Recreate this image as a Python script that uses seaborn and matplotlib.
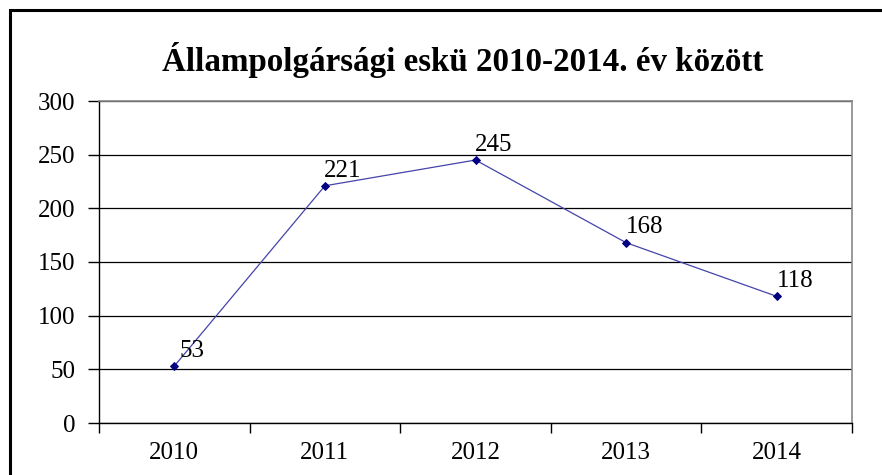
import matplotlib
matplotlib.use("Agg")
import matplotlib.pyplot as plt
import matplotlib.patches as patches
import seaborn as sns
import numpy as np

# chart data
years = ["2010", "2011", "2012", "2013", "2014"]
oaths = [53, 221, 245, 168, 118]
title = "Állampolgársági eskü 2010-2014. év között"

sns.set_style("white")
plt.rcParams["font.family"] = ["Liberation Serif", "DejaVu Serif"]
plt.rcParams["text.color"] = "black"
plt.rcParams["xtick.color"] = "black"
plt.rcParams["ytick.color"] = "black"

fig = plt.figure(figsize=(8.82, 4.75), dpi=100)
ax = fig.add_axes([99 / 882, 52 / 475, 753 / 882, 322 / 475])

sns.pointplot(x=years, y=oaths, ax=ax, color="#000080", markers="D",
              markersize=4, linewidth=0.9, errorbar=None)
ax.lines[0].set_color("#4444aa")
ax.lines[0].set_markerfacecolor("#000080")
ax.lines[0].set_markeredgecolor("#000080")

ax.set_ylim(0, 300)
ax.set_xlim(-0.5, len(years) - 0.5)
ax.set_yticks(np.arange(0, 301, 50))
ax.yaxis.grid(True, color="black", linewidth=0.9)
ax.set_axisbelow(True)

# category separators as tick marks on the x axis
ax.set_xticks(np.arange(-0.5, len(years)), minor=True)
ax.tick_params(axis="x", which="major", bottom=True, length=0, pad=14, labelsize=18)
ax.tick_params(axis="x", which="minor", bottom=True, length=7, width=1,
               color="black", direction="out")
ax.tick_params(axis="y", left=True, length=8, width=1, color="black",
               direction="out", pad=9, labelsize=18)
ax.set_xlabel("")
ax.set_ylabel("")

for side in ["top", "right"]:
    ax.spines[side].set_color("#888888")
    ax.spines[side].set_linewidth(1.2)
for side in ["left", "bottom"]:
    ax.spines[side].set_color("black")
    ax.spines[side].set_linewidth(1.0)

for i, v in enumerate(oaths):
    ax.annotate(str(v), (i, v), xytext=(13, 11), textcoords="offset points",
                ha="center", va="center", fontsize=18)

fig.text(463 / 882, 1 - 60 / 475, title, ha="center", va="center",
         fontsize=23.8, fontweight="bold")

# outer chart border (runs off the right and bottom edges)
fig.patches.append(patches.Rectangle((9.5 / 882, -0.1), 1.2, 1.1 - 9.5 / 475,
                                     transform=fig.transFigure, fill=False,
                                     edgecolor="black", linewidth=2.2))

fig.savefig("out.png", dpi=100)
